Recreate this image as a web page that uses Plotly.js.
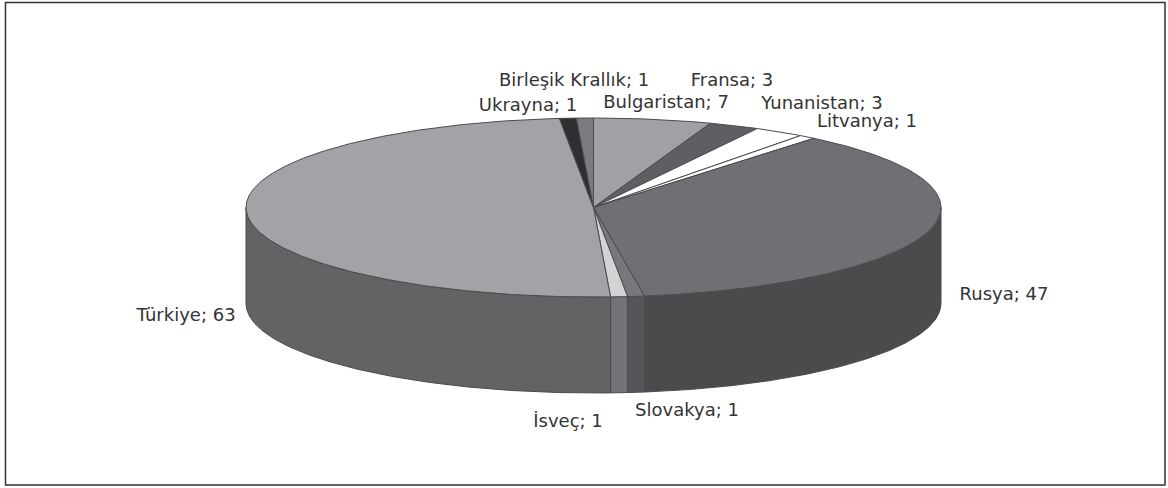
<!DOCTYPE html>
<html><head><meta charset="utf-8">
<script src="https://cdn.plot.ly/plotly-3.0.1.min.js"></script>
<style>html,body{margin:0;padding:0;background:#fff}#c{width:1168px;height:488px}</style>
</head><body><div id="c"></div>
<script>
const categories = ["Bulgaristan","Fransa","Yunanistan","Litvanya","Rusya","Slovakya","İsveç","Türkiye","Ukrayna","Birleşik Krallık"];
const values = [7,3,3,1,47,1,1,63,1,1];
const topColors = ["#a0a1a4","#5e5f62","#ffffff","#ffffff","#6f7074","#77787c","#d2d3d5","#a2a3a6","#2e2f31","#7b7c80"];
const sideColors = ["#55565a","#3f4042","#9a9b9e","#9a9b9e","#4a4b4d","#55565a","#727377","#636365","#2a2b2c","#55565a"];
const labelX = [666,732,822,867,1004,687,568,186,528,574];
const labelY = [103,81,104,122,295,411,422,316,106,81];

const cx=593.5, cy=207.5, rx=347.5, ry=89.5, depth=96;
const px=a=>cx+rx*Math.sin(a*Math.PI/180);
const py=a=>cy-ry*Math.cos(a*Math.PI/180);
const total=values.reduce((s,v)=>s+v,0);
const traces=[];
const line={color:"#4a4b4d",width:1};
let acc=0;
const spans=values.map(v=>{const s=[acc/total*360,(acc+v)/total*360];acc+=v;return s;});
function arc(a0,a1){const n=Math.max(2,Math.ceil((a1-a0)/0.5));const o=[];for(let i=0;i<=n;i++)o.push(a0+(a1-a0)*i/n);return o;}
spans.forEach(([a0,a1],i)=>{
  const s=Math.max(a0,90), e=Math.min(a1,270);
  if(e>s){
    const t=arc(s,e);
    const x=t.map(px).concat(t.slice().reverse().map(px),[px(s)]);
    const y=t.map(py).concat(t.slice().reverse().map(a=>py(a)+depth),[py(s)]);
    traces.push({type:"scatter",mode:"lines",x,y,fill:"toself",fillcolor:sideColors[i],line,hoverinfo:"skip",showlegend:false});
  }
});
spans.forEach(([a0,a1],i)=>{
  const t=arc(a0,a1);
  traces.push({type:"scatter",mode:"lines",x:[cx].concat(t.map(px),[cx]),y:[cy].concat(t.map(py),[cy]),fill:"toself",fillcolor:topColors[i],line,name:categories[i],showlegend:false});
});
traces.push({type:"scatter",mode:"text",x:labelX,y:labelY,text:categories.map((c,i)=>c+"; "+values[i]),textposition:"middle center",textfont:{family:"DejaVu Sans",size:18,color:"#333"},hoverinfo:"skip",showlegend:false,cliponaxis:false});
Plotly.newPlot("c",traces,{
  width:1168,height:488,margin:{l:0,r:0,t:0,b:0},paper_bgcolor:"#fff",plot_bgcolor:"#fff",
  xaxis:{range:[0,1168],visible:false,fixedrange:true},
  yaxis:{range:[488,0],visible:false,fixedrange:true},
  shapes:[{type:"rect",xref:"x",yref:"y",x0:5.5,x1:1165,y0:2.5,y1:485,line:{color:"#333",width:1.5},layer:"below"}]
},{staticPlot:true});
</script></body></html>
